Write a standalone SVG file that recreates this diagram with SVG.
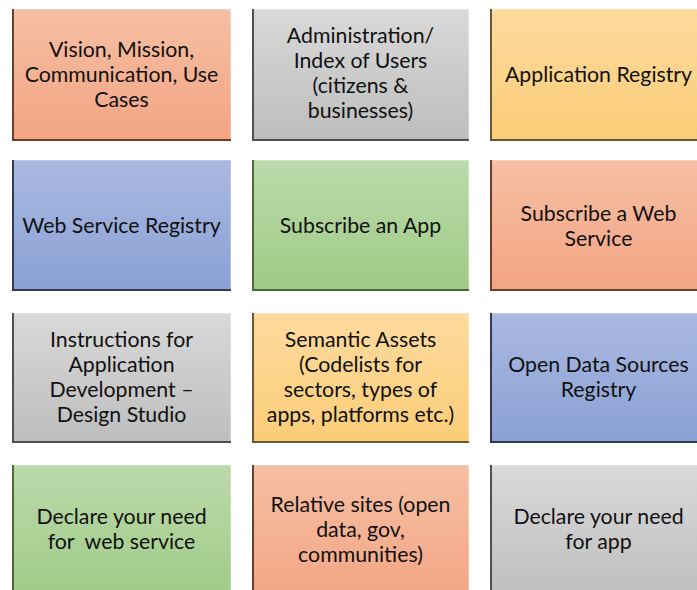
<svg xmlns="http://www.w3.org/2000/svg" width="697" height="590" viewBox="0 0 697 590">
<defs>
<linearGradient id="gO" x1="0" y1="0" x2="0" y2="1"><stop offset="0" stop-color="#F6BFA4"/><stop offset="1" stop-color="#F3A482"/></linearGradient>
<linearGradient id="gG" x1="0" y1="0" x2="0" y2="1"><stop offset="0" stop-color="#D9D9D9"/><stop offset="1" stop-color="#BDBDBD"/></linearGradient>
<linearGradient id="gY" x1="0" y1="0" x2="0" y2="1"><stop offset="0" stop-color="#FDDA9E"/><stop offset="1" stop-color="#FBCD78"/></linearGradient>
<linearGradient id="gB" x1="0" y1="0" x2="0" y2="1"><stop offset="0" stop-color="#AAB9E0"/><stop offset="1" stop-color="#8AA0D5"/></linearGradient>
<linearGradient id="gN" x1="0" y1="0" x2="0" y2="1"><stop offset="0" stop-color="#BBDAAB"/><stop offset="1" stop-color="#9FCA86"/></linearGradient>
</defs>
<style>
text{font-family:Lato,"Open Sans","Liberation Sans",sans-serif;font-size:21.3px;fill:#111;text-anchor:middle}
.o rect{fill:url(#gO)} .o path{stroke:#6B3F2E}
.g rect{fill:url(#gG)} .g path{stroke:#505050}
.y rect{fill:url(#gY)} .y path{stroke:#6B5632}
.b rect{fill:url(#gB)} .b path{stroke:#333A55}
.n rect{fill:url(#gN)} .n path{stroke:#4A6A3A}
rect{stroke:#FFFFFF;stroke-opacity:0.5;stroke-width:1}
path{fill:none;stroke-width:2}
</style>
<g id="n1" class="o"><rect x="12" y="9" width="219" height="132"/><path d="M13,9V140H231"/><text x="121.5" y="57">Vision, Mission,</text><text x="121.5" y="82">Communication, Use</text><text x="121.5" y="107">Cases</text></g>
<g id="n2" class="g"><rect x="252" y="9" width="217" height="132"/><path d="M253,9V140H469"/><text x="360.5" y="43">Administration/</text><text x="360.5" y="68">Index of Users</text><text x="360.5" y="93">(citizens &amp;</text><text x="360.5" y="118">businesses)</text></g>
<g id="n3" class="y"><rect x="490" y="9" width="217" height="132"/><path d="M491,9V140H707"/><text x="598.5" y="82">Application Registry</text></g>
<g id="n4" class="b"><rect x="12" y="160" width="219" height="131"/><path d="M13,160V290H231"/><text x="121.5" y="233">Web Service Registry</text></g>
<g id="n5" class="n"><rect x="252" y="160" width="217" height="131"/><path d="M253,160V290H469"/><text x="360.5" y="233">Subscribe an App</text></g>
<g id="n6" class="o"><rect x="490" y="160" width="217" height="131"/><path d="M491,160V290H707"/><text x="598.5" y="221">Subscribe a Web</text><text x="598.5" y="246">Service</text></g>
<g id="n7" class="g"><rect x="12" y="313" width="219" height="130"/><path d="M13,313V442H231"/><text x="121.5" y="347">Instructions for</text><text x="121.5" y="372">Application</text><text x="121.5" y="397">Development –</text><text x="121.5" y="422">Design Studio</text></g>
<g id="n8" class="y"><rect x="252" y="313" width="217" height="130"/><path d="M253,313V442H469"/><text x="360.5" y="347">Semantic Assets</text><text x="360.5" y="372">(Codelists for</text><text x="360.5" y="397">sectors, types of</text><text x="360.5" y="422">apps, platforms etc.)</text></g>
<g id="n9" class="b"><rect x="490" y="313" width="217" height="130"/><path d="M491,313V442H707"/><text x="598.5" y="372">Open Data Sources</text><text x="598.5" y="397">Registry</text></g>
<g id="n10" class="n"><rect x="12" y="465" width="219" height="140"/><path d="M13,465V600"/><text x="121.5" y="524">Declare your need</text><text x="121.5" y="549" xml:space="preserve">for  web service</text></g>
<g id="n11" class="o"><rect x="252" y="465" width="217" height="140"/><path d="M253,465V600"/><text x="360.5" y="512">Relative sites (open</text><text x="360.5" y="537">data, gov,</text><text x="360.5" y="562">communities)</text></g>
<g id="n12" class="g"><rect x="490" y="465" width="217" height="140"/><path d="M491,465V600"/><text x="598.5" y="524">Declare your need</text><text x="598.5" y="549">for app</text></g>
<g id="connectors"/>
</svg>
